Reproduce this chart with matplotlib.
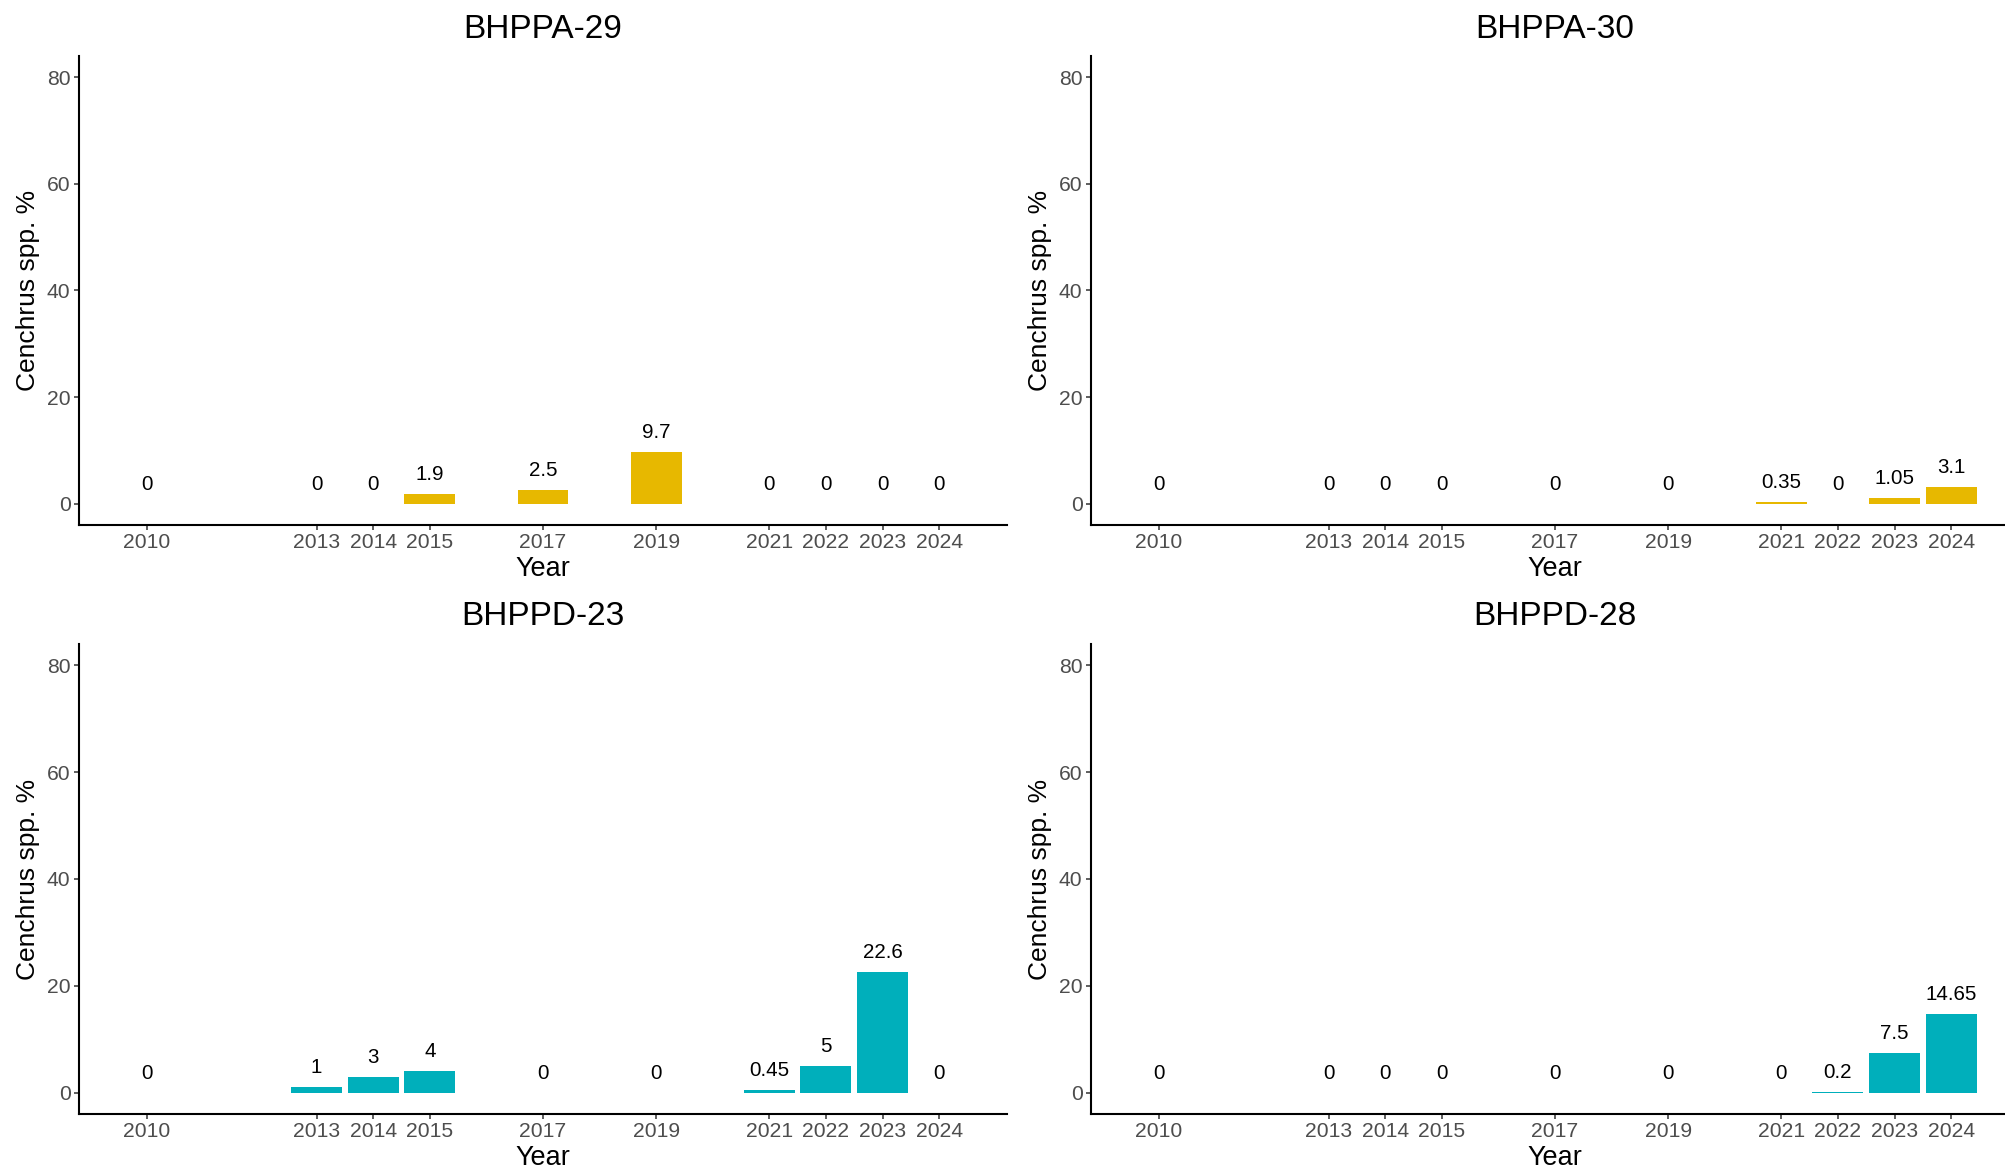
import matplotlib
matplotlib.use("Agg")
import matplotlib.pyplot as plt

plt.rcParams["font.family"] = ["Liberation Sans", "DejaVu Sans"]

years = [2010, 2013, 2014, 2015, 2017, 2019, 2021, 2022, 2023, 2024]
sites = ["BHPPA-29", "BHPPA-30", "BHPPD-23", "BHPPD-28"]

bhppa_29 = [0, 0, 0, 1.9, 2.5, 9.7, 0, 0, 0, 0]
bhppa_30 = [0, 0, 0, 0, 0, 0, 0.35, 0, 1.05, 3.1]
bhppd_23 = [0, 1, 3, 4, 0, 0, 0.45, 5, 22.6, 0]
bhppd_28 = [0, 0, 0, 0, 0, 0, 0, 0.2, 7.5, 14.65]

yticks = [0, 20, 40, 60, 80]

values = [bhppa_29, bhppa_30, bhppd_23, bhppd_28]
colors = ["#E7B800", "#E7B800", "#00AFBB", "#00AFBB"]

W, H = 2006, 1170
fig = plt.figure(figsize=(W / 100, H / 100), dpi=100)

# panel boxes in pixels: left, top, width, height
boxes = [
    (79, 56, 928, 469),
    (1091, 56, 928, 469),
    (79, 644, 928, 470),
    (1091, 644, 928, 470),
]

grey = "#4D4D4D"

for site, vals, col, (l, t, w, h) in zip(sites, values, colors, boxes):
    ax = fig.add_axes([l / W, 1 - (t + h) / H, w / W, h / H])
    ax.bar(years, vals, width=0.9, color=col, linewidth=0)
    for x, v in zip(years, vals):
        ax.annotate(f"{v:g}", (x, v), xytext=(0, 14), textcoords="offset points",
                    ha="center", va="center", fontsize=14.8, color="black")

    ax.set_xlim(2008.8, 2025.2)
    ax.set_ylim(-4, 84)
    ax.set_xticks(years)
    ax.set_xticklabels([str(y) for y in years])
    ax.set_yticks(yticks)

    for side in ["top", "right"]:
        ax.spines[side].set_visible(False)
    for side in ["left", "bottom"]:
        ax.spines[side].set_linewidth(1.5)
        ax.spines[side].set_color("black")
    ax.tick_params(axis="both", length=3.6, width=1.1, color="#333333",
                   labelsize=15.2, labelcolor=grey, pad=2.5)

    ax.text(0.5, 1 + 27 / h, site, transform=ax.transAxes, ha="center",
            va="center", fontsize=24, color="black")
    ax.text(0.5, -44 / h, "Year", transform=ax.transAxes, ha="center",
            va="center", fontsize=19.5, color="black")
    ax.text(-51 / w, 0.5, "Cenchrus spp. %", transform=ax.transAxes,
            ha="center", va="center", rotation=90, fontsize=19, color="black")

fig.savefig("out.png", dpi=100, facecolor="white")
